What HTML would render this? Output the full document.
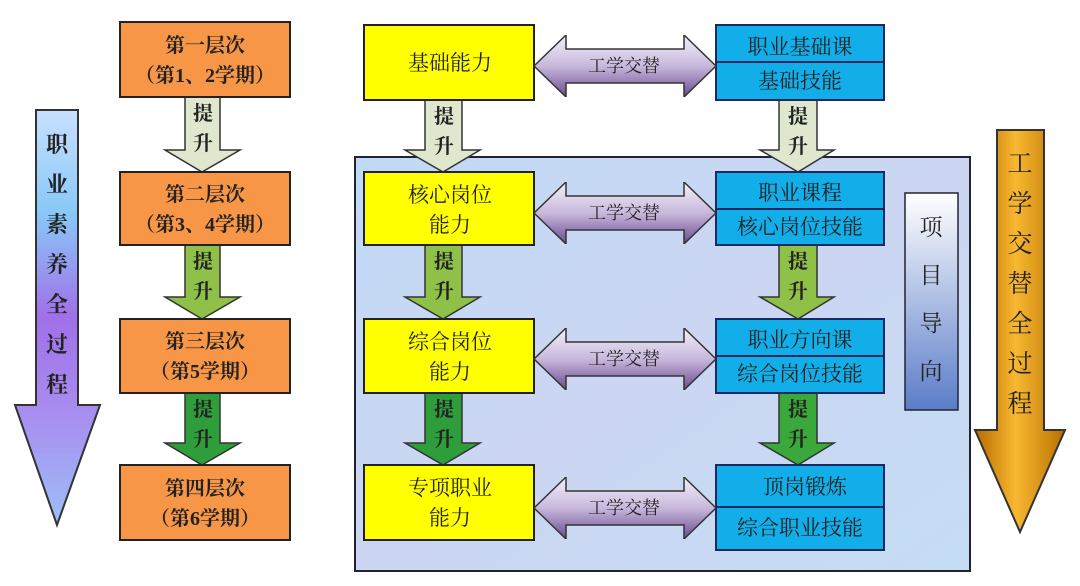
<!DOCTYPE html>
<html><head><meta charset="utf-8"><style>
body{margin:0;background:#fff;}
svg text{font-family:"Liberation Serif","Noto Serif CJK SC",serif;fill:#222;}
</style></head><body>
<svg width="1080" height="581" viewBox="0 0 1080 581" xmlns="http://www.w3.org/2000/svg">
<defs>
<linearGradient id="lg" x1="0" y1="0" x2="0" y2="1">
<stop offset="0" stop-color="#c8e0ff"/><stop offset="0.25" stop-color="#88c8f8"/><stop offset="0.5" stop-color="#a070e8"/><stop offset="0.75" stop-color="#a890f0"/><stop offset="1" stop-color="#9cc0f8"/></linearGradient>
<linearGradient id="og" x1="0" y1="0" x2="1" y2="0">
<stop offset="0" stop-color="#b86a00"/><stop offset="0.45" stop-color="#f8b830"/><stop offset="1" stop-color="#b87000"/></linearGradient>
<linearGradient id="dg" x1="0" y1="0" x2="0" y2="1">
<stop offset="0" stop-color="#f4f0fa"/><stop offset="0.5" stop-color="#c8b8dc"/><stop offset="1" stop-color="#6a4a90"/></linearGradient>
<linearGradient id="pg" x1="0" y1="0" x2="0" y2="1">
<stop offset="0" stop-color="#ffffff"/><stop offset="1" stop-color="#5a7cc8"/></linearGradient>
<linearGradient id="bg" x1="0" y1="0" x2="1" y2="1">
<stop offset="0" stop-color="#c0daf6"/><stop offset="0.5" stop-color="#ccd6f2"/><stop offset="1" stop-color="#c4dcf4"/></linearGradient>
<symbol id="dbl" viewBox="0 0 182 62"><polygon points="0,31 32,0 32,14 150,14 150,0 182,31 150,62 150,48 32,48 32,62" fill="url(#dg)" stroke="#333" stroke-width="1.5"/></symbol>
</defs>
<polygon points="36,110 78,110 78,405 100,405 57,525 15,405 36,405" fill="url(#lg)" stroke="#333" stroke-width="2"/>
<g font-size="22" text-anchor="middle" font-weight="bold">
<text x="57" y="152">职</text><text x="57" y="192">业</text><text x="57" y="232">素</text><text x="57" y="272">养</text><text x="57" y="312">全</text><text x="57" y="352">过</text><text x="57" y="392">程</text></g>
<polygon points="997,130 1044,130 1044,430 1065,430 1020,532 975,430 997,430" fill="url(#og)" stroke="#333" stroke-width="2"/>
<g font-size="25" text-anchor="middle">
<text x="1020" y="172">工</text><text x="1020" y="212">学</text><text x="1020" y="252">交</text><text x="1020" y="292">替</text><text x="1020" y="332">全</text><text x="1020" y="372">过</text><text x="1020" y="412">程</text></g>
<rect x="355" y="157" width="615" height="414" fill="url(#bg)" stroke="#223" stroke-width="2"/>
<rect x="905" y="193" width="53" height="217" fill="url(#pg)" stroke="#223" stroke-width="1.5"/>
<g font-size="23" text-anchor="middle"><text x="931" y="235">项</text><text x="931" y="283">目</text><text x="931" y="331">导</text><text x="931" y="379">向</text></g>
<g stroke="#333" stroke-width="1.5">
<polygon points="185,97 220,97 220,150 240,150 202,172 165,150 185,150" fill="#dfe8cf"/>
<polygon points="185,245 220,245 220,297 240,297 202,319 165,297 185,297" fill="#8fc048"/>
<polygon points="185,393 220,393 220,443 240,443 202,465 165,443 185,443" fill="#2e9e3a"/>
<polygon points="425,100 462,100 462,150 480,150 443,172 405,150 425,150" fill="#dfe8cf"/>
<polygon points="425,245 462,245 462,297 480,297 443,319 405,297 425,297" fill="#8fc048"/>
<polygon points="425,393 462,393 462,443 480,443 443,465 405,443 425,443" fill="#2e9e3a"/>
<polygon points="779,100 817,100 817,150 834,150 798,172 760,150 779,150" fill="#dfe8cf"/>
<polygon points="779,245 817,245 817,297 834,297 798,319 760,297 779,297" fill="#8fc048"/>
<polygon points="779,393 817,393 817,443 834,443 798,465 760,443 779,443" fill="#3aa83a"/>
</g>
<g font-size="20" text-anchor="middle" font-weight="bold">
<text x="203" y="120">提</text><text x="203" y="150">升</text>
<text x="203" y="268">提</text><text x="203" y="298">升</text>
<text x="203" y="416">提</text><text x="203" y="446">升</text>
<text x="444" y="123">提</text><text x="444" y="153">升</text>
<text x="444" y="268">提</text><text x="444" y="298">升</text>
<text x="444" y="416">提</text><text x="444" y="446">升</text>
<text x="798" y="123">提</text><text x="798" y="153">升</text>
<text x="798" y="268">提</text><text x="798" y="298">升</text>
<text x="798" y="416">提</text><text x="798" y="446">升</text></g>
<g fill="#f79646" stroke="#222" stroke-width="2">
<rect x="120" y="22" width="170" height="75"/><rect x="120" y="172" width="170" height="73"/>
<rect x="120" y="319" width="170" height="74"/><rect x="120" y="465" width="170" height="75"/></g>
<g font-size="20" text-anchor="middle" font-weight="bold">
<text x="205" y="52">第一层次</text><text x="205" y="82">（第1、2学期）</text>
<text x="205" y="201">第二层次</text><text x="205" y="231">（第3、4学期）</text>
<text x="205" y="348">第三层次</text><text x="205" y="378">（第5学期）</text>
<text x="205" y="495">第四层次</text><text x="205" y="525">（第6学期）</text></g>
<g fill="#ffff00" stroke="#222" stroke-width="2">
<rect x="364" y="25" width="170" height="75"/><rect x="364" y="172" width="170" height="73"/>
<rect x="364" y="319" width="170" height="74"/><rect x="364" y="465" width="170" height="75"/></g>
<g font-size="21" text-anchor="middle">
<text x="450" y="70">基础能力</text>
<text x="450" y="202">核心岗位</text><text x="450" y="232">能力</text>
<text x="450" y="349">综合岗位</text><text x="450" y="379">能力</text>
<text x="450" y="495">专项职业</text><text x="450" y="525">能力</text></g>
<g fill="#11aeea" stroke="#1a2a60" stroke-width="2">
<rect x="716" y="25" width="168" height="75"/><line x1="716" y1="62" x2="884" y2="62"/>
<rect x="716" y="172" width="168" height="73"/><line x1="716" y1="209" x2="884" y2="209"/>
<rect x="716" y="319" width="168" height="74"/><line x1="716" y1="356" x2="884" y2="356"/>
<rect x="716" y="465" width="168" height="85"/><line x1="716" y1="507" x2="884" y2="507"/></g>
<g font-size="21" text-anchor="middle">
<text x="800" y="54">职业基础课</text><text x="800" y="88">基础技能</text>
<text x="800" y="200">职业课程</text><text x="800" y="234">核心岗位技能</text>
<text x="800" y="347">职业方向课</text><text x="800" y="381">综合岗位技能</text>
<text x="805" y="494">顶岗锻炼</text><text x="800" y="535">综合职业技能</text></g>
<use href="#dbl" x="534" y="35" width="182" height="62"/>
<use href="#dbl" x="534" y="182" width="182" height="62"/>
<use href="#dbl" x="534" y="328" width="182" height="62"/>
<use href="#dbl" x="534" y="477" width="182" height="62"/>
<g font-size="18" text-anchor="middle">
<text x="624" y="72">工学交替</text><text x="624" y="219">工学交替</text>
<text x="624" y="365">工学交替</text><text x="624" y="514">工学交替</text></g>
</svg>
</body></html>
